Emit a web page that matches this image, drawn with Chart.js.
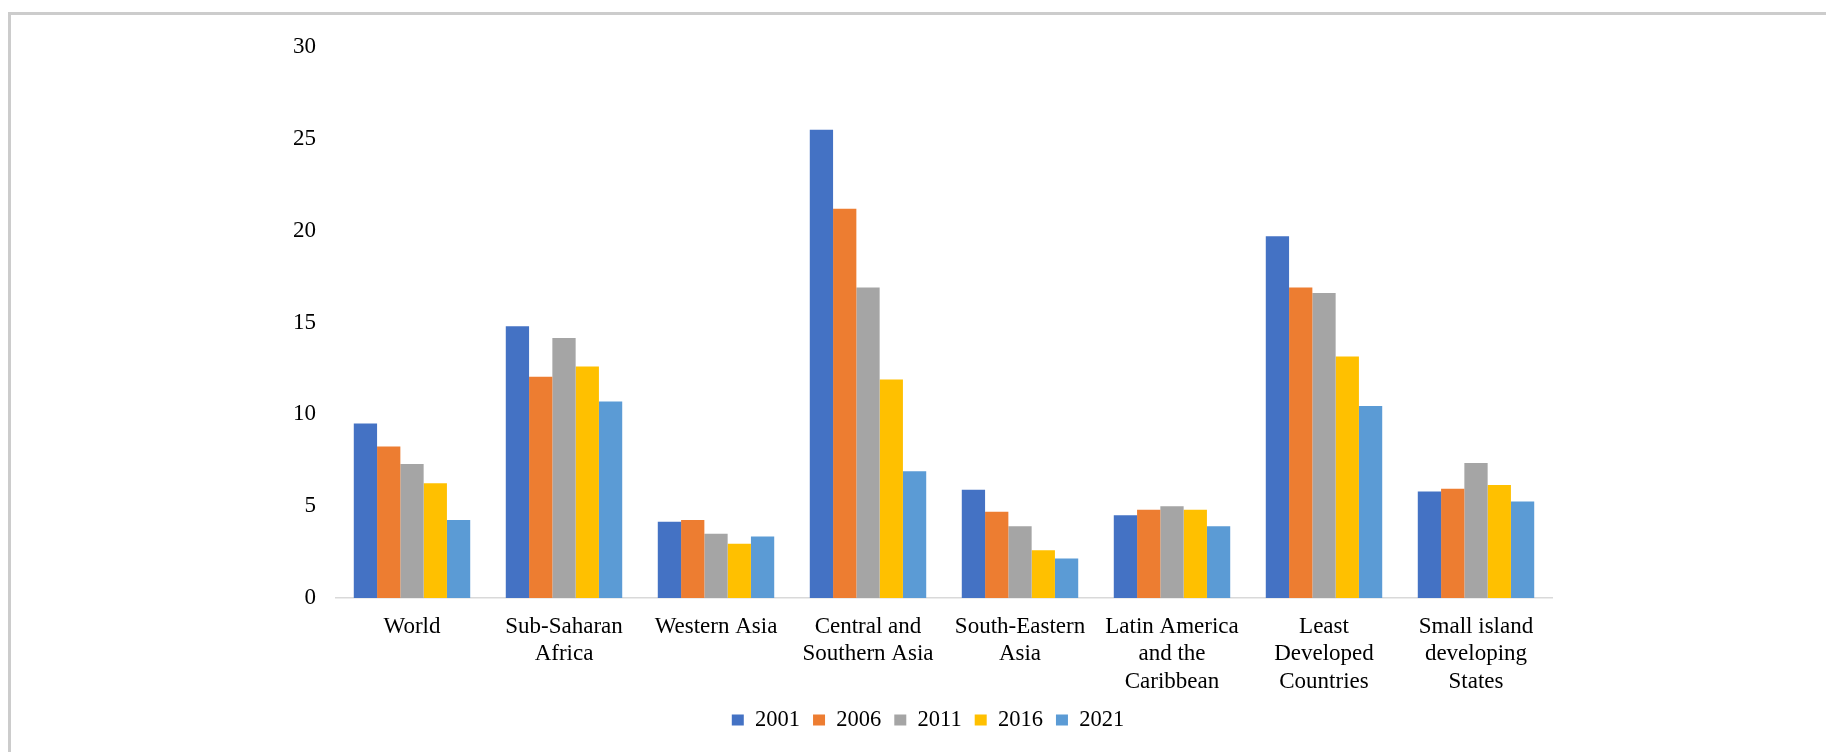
<!DOCTYPE html>
<html>
<head>
<meta charset="utf-8">
<script src="https://cdn.jsdelivr.net/npm/chart.js@4"></script>
<style>
  html, body { margin: 0; padding: 0; background: #fff; }
  #frame {
    position: absolute; left: 8px; top: 12px; width: 1830px; height: 760px;
    border-top: 3px solid #cccccc; border-left: 3px solid #cccccc;
  }
  #chart { position: absolute; left: 0; top: 0; }
</style>
</head>
<body>
<div id="frame"></div>
<canvas id="chart" width="1826" height="752"></canvas>
<script>
const categories = [
  ["World"],
  ["Sub-Saharan", "Africa"],
  ["Western Asia"],
  ["Central and", "Southern Asia"],
  ["South-Eastern", "Asia"],
  ["Latin America", "and the", "Caribbean"],
  ["Least", "Developed", "Countries"],
  ["Small island", "developing", "States"]
];
const years = ["2001", "2006", "2011", "2016", "2021"];
const y2001 = [9.5, 14.8, 4.15, 25.5, 5.9, 4.5, 19.7, 5.8];
const y2006 = [8.25, 12.05, 4.25, 21.2, 4.7, 4.8, 16.9, 5.95];
const y2011 = [7.3, 14.15, 3.5, 16.9, 3.9, 5.0, 16.6, 7.35];
const y2016 = [6.25, 12.6, 2.95, 11.9, 2.6, 4.8, 13.15, 6.15];
const y2021 = [4.25, 10.7, 3.35, 6.9, 2.15, 3.9, 10.45, 5.25];
const colors = ["#4472C4", "#ED7D31", "#A5A5A5", "#FFC000", "#5B9BD5"];

const series = [y2001, y2006, y2011, y2016, y2021];
const font = { family: "'Liberation Serif', 'Times New Roman', serif", size: 23, lineHeight: 1.2 };

// legend is centred a bit right of the canvas middle in the original
const shiftLegend = {
  id: "shiftLegend",
  afterLayout(chart) {
    chart.legend.left += 16;
    chart.legend.right += 16;
  },
};

new Chart(document.getElementById("chart").getContext("2d"), {
  type: "bar",
  data: {
    labels: categories,
    datasets: series.map((vals, i) => ({
      label: years[i],
      data: vals,
      backgroundColor: colors[i],
      borderWidth: 0,
      categoryPercentage: 0.766,
      barPercentage: 1.0,
    })),
  },
  options: {
    responsive: false,
    animation: false,
    layout: { padding: { left: 272, right: 274, top: 47, bottom: 10.75 } },
    plugins: {
      tooltip: { enabled: false },
      legend: {
        position: "bottom",
        labels: {
          color: "#000",
          font: { family: font.family, size: 22.5 },
          boxWidth: 12,
          boxHeight: 11,
          padding: 13,
        },
      },
    },
    scales: {
      x: {
        grid: { display: false, drawTicks: false },
        border: { display: true, color: "#d9d9d9", width: 1.5 },
        ticks: { color: "#000", font: font, padding: 15, maxRotation: 0, autoSkip: false },
        afterFit: (scale) => { scale.height = 97.75; },
      },
      y: {
        min: 0,
        max: 30,
        grid: { display: false, drawTicks: false },
        border: { display: false },
        ticks: { color: "#000", font: font, padding: 20, stepSize: 5 },
        afterFit: (scale) => { scale.width = 64; },
      },
    },
  },
  plugins: [shiftLegend],
});
</script>
</body>
</html>
